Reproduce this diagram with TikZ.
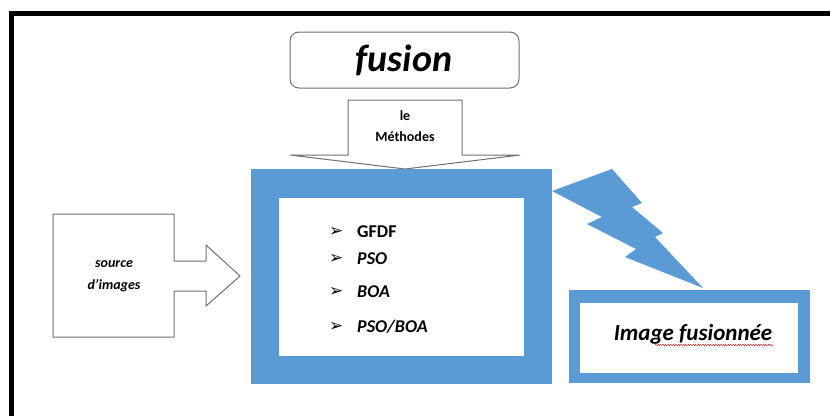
\documentclass[tikz,border=0pt]{standalone}
\usepackage{fontspec}
\setmainfont{Carlito}
\newfontfamily\symfont{DejaVu Sans}
\usetikzlibrary{decorations.pathmorphing}
\definecolor{officeblue}{HTML}{5B9BD5}
\definecolor{outlinegray}{HTML}{707070}
\tikzset{
  blockshape/.style={draw=outlinegray, line width=1pt, fill=white},
  bluefill/.style={fill=officeblue, draw=none},
  label/.style={font=\bfseries\itshape, align=center, inner sep=0pt},
  item/.style={anchor=west, inner sep=0pt},
  bullet/.style={font=\symfont\fontsize{17}{19}\selectfont, anchor=west, inner sep=0pt},
}
\begin{document}
\begin{tikzpicture}[x=1pt, y=-1pt]
\useasboundingbox (0,0) rectangle (830,416);
\fill[white] (0,0) rectangle (830,416);

% page frame (top and left edges)
\draw[line width=5pt] (11.5,416) -- (11.5,13.5) -- (830,13.5);

% title box
\draw[blockshape, rounded corners=9pt] (290,32) rectangle (519,88);
\node[label, font=\bfseries\itshape\fontsize{38}{42}\selectfont] (title) at (404,60) {fusion};

% down arrow carrying the method label
\draw[blockshape, line join=miter]
  (348,100) -- (462,100) -- (462,155) -- (520,155) -- (405,169)
  -- (290,155) -- (348,155) -- cycle;
\node[font=\bfseries\fontsize{14}{21}\selectfont, align=center, inner sep=0pt] (methods) at (405,126) {le\\Méthodes};

% source block arrow
\draw[blockshape, line join=miter]
  (53,214) -- (174,214) -- (174,261) -- (206,261) -- (206,245) -- (240,276)
  -- (206,306) -- (206,291) -- (174,291) -- (174,337) -- (53,337) -- cycle;
\node[label, font=\bfseries\itshape\fontsize{14}{22}\selectfont] (source) at (114,276) {source\\d\char39 images};

% main processing frame
\fill[bluefill] (251,169) rectangle (552,384);
\fill[white] (279,198) rectangle (524,356);

% list of methods
\node[bullet] (b1) at (329,232) {➢};
\node[bullet] (b2) at (329,259) {➢};
\node[bullet] (b3) at (329,292) {➢};
\node[bullet] (b4) at (329,327) {➢};
\node[item, font=\bfseries\fontsize{18}{20}\selectfont] (m1) at (357,232) {GFDF};
\node[item, font=\bfseries\itshape\fontsize{18}{20}\selectfont] (m2) at (357,259) {PSO};
\node[item, font=\bfseries\itshape\fontsize{18}{20}\selectfont] (m3) at (357,292) {BOA};
\node[item, font=\bfseries\itshape\fontsize{18}{20}\selectfont] (m4) at (357,327) {PSO/BOA};

% lightning bolt
\fill[officeblue] (552,191) -- (612,169) -- (642,203) -- (632,207) -- (663,233)
  -- (655,237) -- (703,288) -- (625,257) -- (636,249) -- (587,224)
  -- (602,217) -- cycle;

% output frame
\fill[bluefill] (569,290) rectangle (810,383);
\fill[white] (580,303) rectangle (798,373);
\node[label, font=\bfseries\itshape\fontsize{23}{26}\selectfont] (result) at (693,334) {Image fusionnée};
\draw[red!80!black, line width=0.4pt, decorate,
  decoration={snake, amplitude=0.7pt, segment length=2.5pt}]
  (655,345) -- (773,345);
\end{tikzpicture}
\end{document}
